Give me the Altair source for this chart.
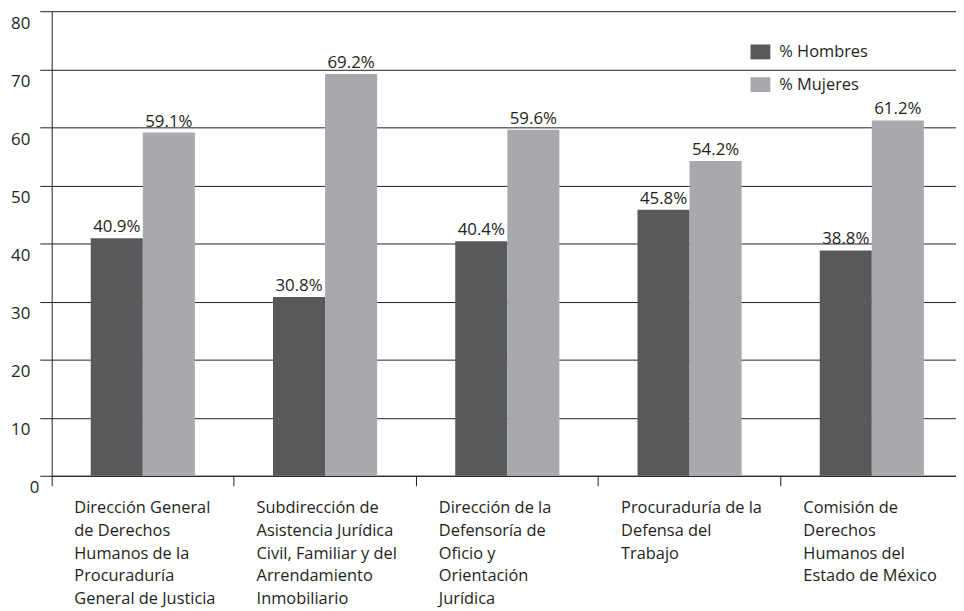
import altair as alt
import pandas as pd

categories = [
    "Dirección General|de Derechos|Humanos de la|Procuraduría|General de Justicia",
    "Subdirección de|Asistencia Jurídica|Civil, Familiar y del|Arrendamiento|Inmobiliario",
    "Dirección de la|Defensoría de|Oficio y|Orientación|Jurídica",
    "Procuraduría de la|Defensa del|Trabajo",
    "Comisión de|Derechos|Humanos del|Estado de México",
]
hombres = [40.9, 30.8, 40.4, 45.8, 38.8]
mujeres = [59.1, 69.2, 59.6, 54.2, 61.2]
series = ["% Hombres", "% Mujeres"]
colors = ["#58595b", "#a7a9ac"]
y_ticks = [0, 10, 20, 30, 40, 50, 60, 70, 80]

rows = []
for c, h, m in zip(categories, hombres, mujeres):
    rows.append({"cat": c, "serie": series[0], "valor": h})
    rows.append({"cat": c, "serie": series[1], "valor": m})
df = pd.DataFrame(rows)

FONT = "Open Sans"
TXT = "#231f20"
LINE = "#231f20"

x_enc = alt.X(
    "cat:N", sort=categories, title=None,
    scale=alt.Scale(range=[0, 918], paddingInner=0, paddingOuter=0),
    axis=alt.Axis(
        bandPosition=0, labelAngle=0, labelAlign="left", labelBaseline="top",
        labelOffset=-69, labelPadding=14, tickSize=10,
        labelExpr="split(datum.label, '|')", labelLineHeight=23,
        labelFontSize=16.5, labelLimit=400, labelFont=FONT, labelColor=TXT,
        domainColor=LINE, tickColor=LINE, domainWidth=1, tickWidth=1, grid=False,
    ),
)
xoff_enc = alt.XOffset("serie:N", sort=series,
                       scale=alt.Scale(paddingInner=0, paddingOuter=0.75))
y_enc = alt.Y(
    "valor:Q", title=None,
    scale=alt.Scale(domain=[0, 80], nice=False),
    axis=alt.Axis(
        values=y_ticks, grid=True, gridColor=LINE, gridWidth=1,
        domainColor=LINE, tickColor=LINE, tickSize=12,
        labelFontSize=17, labelFont=FONT, labelColor=TXT,
        labelOffset=12,
        labelPadding={"condition": {"test": "datum.value === 0", "value": 1}, "value": 10},
    ),
)

bars = alt.Chart(df).mark_bar().encode(
    x=x_enc, xOffset=xoff_enc, y=y_enc,
    color=alt.Color(
        "serie:N", scale=alt.Scale(domain=series, range=colors),
        legend=alt.Legend(
            title=None, orient="none", legendX=704, legendY=31, padding=0,
            symbolType="M-1,-0.75L1,-0.75L1,0.75L-1,0.75Z", symbolSize=400,
            symbolStrokeWidth=0, symbolOpacity=1, rowPadding=14, labelOffset=9,
            labelFontSize=16.5, labelFont=FONT, labelColor=TXT,
        ),
    ),
)

text = alt.Chart(df).transform_calculate(
    etiqueta="format(datum.valor, '.1f') + '%'"
).mark_text(
    baseline="alphabetic", align="center", dy=-6, fontSize=17, font=FONT, color=TXT
).encode(
    x=x_enc, xOffset=xoff_enc, y=y_enc, text="etiqueta:N",
)

chart = alt.layer(bars, text).properties(
    width=911, height=468,
    autosize=alt.AutoSizeParams(type="none"),
    padding={"left": 44, "top": 1, "right": 0, "bottom": 134},
).configure_view(stroke=None)

chart.save("out.html", embed_options={"renderer": "svg", "actions": False})
